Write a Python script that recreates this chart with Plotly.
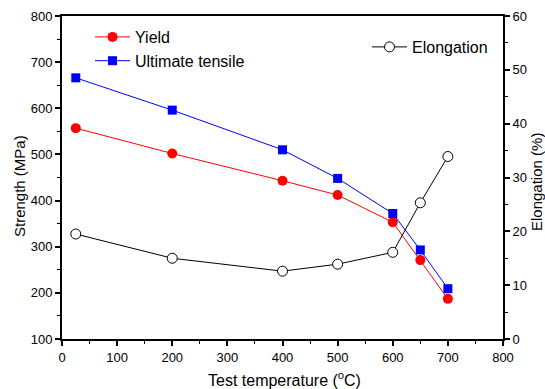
import plotly.graph_objects as go

temperature = [25, 200, 400, 500, 600, 650, 700]
yield_strength = [557, 502, 443, 412, 353, 271, 187]
ultimate_tensile = [666, 596, 510, 448, 372, 293, 209]
elongation = [19.5, 15.0, 12.6, 13.9, 16.1, 25.3, 33.9]

W, H = 545, 389
ML, MR, MT, MB = 62, 42, 16, 50
PW, PH = W - ML - MR, H - MT - MB

def px_x(px):
    return (px - ML) / PW

def px_y(py):
    return (H - MB - py) / PH

fig = go.Figure()
fig.add_trace(go.Scatter(x=temperature, y=yield_strength, name="Yield", mode="lines+markers",
                         line=dict(color="#ff0000", width=1),
                         marker=dict(symbol="circle", size=10, color="#ff0000"),
                         legend="legend"))
fig.add_trace(go.Scatter(x=temperature, y=ultimate_tensile, name="Ultimate tensile", mode="lines+markers",
                         line=dict(color="#0000ff", width=1),
                         marker=dict(symbol="square", size=9, color="#0000ff"),
                         legend="legend"))
fig.add_trace(go.Scatter(x=temperature, y=elongation, name="Elongation", mode="lines+markers",
                         line=dict(color="#000000", width=1),
                         marker=dict(symbol="circle", size=10, color="white",
                                     line=dict(width=1, color="#000000")),
                         yaxis="y2", legend="legend2"))

font_family = "Liberation Sans, Arial, sans-serif"
axis_common = dict(showline=True, linecolor="black", linewidth=2, ticks="outside",
                   ticklen=5, tickwidth=1.5, tickcolor="black", showgrid=False, zeroline=False,
                   automargin=False,
                   tickfont=dict(family=font_family, size=13, color="black"))
minor_common = dict(ticks="outside", ticklen=3, tickcolor="black", tickwidth=1)

fig.update_layout(
    width=W, height=H,
    margin=dict(l=ML, r=MR, t=MT, b=MB, autoexpand=False),
    paper_bgcolor="white", plot_bgcolor="white",
    font=dict(family=font_family, color="black"),
    xaxis=dict(range=[0, 800], dtick=100, mirror=True,
               minor=dict(dtick=50, **minor_common),
               **axis_common),
    yaxis=dict(range=[100, 800], dtick=100,
               minor=dict(dtick=50, **minor_common),
               **axis_common),
    yaxis2=dict(range=[0, 60], dtick=10, overlaying="y", side="right",
                minor=dict(dtick=5, **minor_common),
                **axis_common),
    legend=dict(x=px_x(90), y=px_y(20), xanchor="left", yanchor="top", bgcolor="rgba(0,0,0,0)",
                font=dict(size=16, family=font_family), tracegroupgap=0, itemwidth=35),
    legend2=dict(x=px_x(367), y=px_y(30), xanchor="left", yanchor="top", bgcolor="rgba(0,0,0,0)",
                 font=dict(size=16, family=font_family), itemwidth=35),
    showlegend=True,
    annotations=[
        dict(text="Test temperature (<sup>o</sup>C)", xref="paper", yref="paper",
             x=px_x(284), y=px_y(379), xanchor="center", yanchor="middle", showarrow=False,
             font=dict(size=16, family=font_family, color="black")),
        dict(text="Strength (MPa)", xref="paper", yref="paper", textangle=-90,
             x=px_x(19), y=px_y(186), xanchor="center", yanchor="middle", showarrow=False,
             font=dict(size=15, family=font_family, color="black")),
        dict(text="Elongation (%)", xref="paper", yref="paper", textangle=-90,
             x=px_x(537), y=px_y(182), xanchor="center", yanchor="middle", showarrow=False,
             font=dict(size=15, family=font_family, color="black")),
    ],
)

fig.write_html("out.html", config={"displayModeBar": False},
               post_script="document.body.style.margin='0';document.body.style.overflow='hidden';")
